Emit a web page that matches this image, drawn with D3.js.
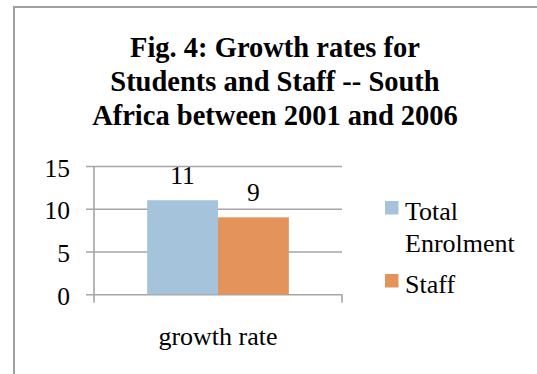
<!DOCTYPE html>
<html>
<head>
<meta charset="utf-8">
<script src="https://cdn.jsdelivr.net/npm/d3@7"></script>
<style>
  html, body { margin: 0; padding: 0; background: #fff; }
  svg { display: block; }
  text { font-family: "Liberation Serif", "Times New Roman", serif; fill: #000; }
</style>
</head>
<body>
<svg id="chart" width="537" height="374"></svg>
<script>
// Chart data
const titleLines = ["Fig. 4: Growth rates for", "Students and Staff -- South", "Africa between 2001 and 2006"];
const categories = ["growth rate"];
const seriesNames = ["Total Enrolment", "Staff"];
const seriesValues = [11, 9];
const seriesColors = ["#a6c3dc", "#e4945b"];
const yTicks = [0, 5, 10, 15];

const svg = d3.select("#chart");
const W = 537, H = 374;

// Outer chart frame (runs off the right and bottom edges)
svg.append("rect")
  .attr("x", 14).attr("y", 7)
  .attr("width", W).attr("height", H)
  .attr("fill", "#fff")
  .attr("stroke", "#a0a0a0")
  .attr("stroke-width", 2);

// Title
svg.append("g").selectAll("text")
  .data(titleLines)
  .join("text")
  .attr("x", 275)
  .attr("y", (d, i) => 57 + i * 34)
  .attr("text-anchor", "middle")
  .attr("font-size", 28.5)
  .attr("font-weight", "bold")
  .text(d => d);

// Plot area
const plot = { left: 94, right: 342, top: 166, bottom: 294.3 };
const gridColor = "#a6a6a6";

const y = d3.scaleLinear().domain([0, 15]).range([plot.bottom, plot.top]);
const x0 = d3.scaleBand().domain(categories).range([plot.left, plot.right]).paddingInner(0).paddingOuter(0);
const groupInner = d3.scaleBand().domain(seriesNames).range([0, x0.bandwidth()]).paddingOuter(0.75).paddingInner(0);

// Horizontal gridlines with left tick marks
const yAxis = d3.axisLeft(y).tickValues(yTicks).tickSize(-(plot.right - plot.left + 8)).tickPadding(0).tickFormat("");
const ga = svg.append("g").attr("transform", `translate(${plot.left - 8},0)`).call(yAxis);
ga.select(".domain").remove();
ga.selectAll(".tick line")
  .attr("x1", 0).attr("x2", plot.right - plot.left + 8)
  .attr("stroke", gridColor).attr("stroke-width", 1.6);

// Vertical axis line, extended below the baseline
svg.append("line")
  .attr("x1", plot.left).attr("x2", plot.left)
  .attr("y1", plot.top).attr("y2", plot.bottom + 8.5)
  .attr("stroke", gridColor).attr("stroke-width", 1.6);
// Category boundary tick at the right end
svg.append("line")
  .attr("x1", plot.right).attr("x2", plot.right)
  .attr("y1", plot.bottom).attr("y2", plot.bottom + 8.5)
  .attr("stroke", gridColor).attr("stroke-width", 1.6);

// Y tick labels
svg.append("g").selectAll("text")
  .data(yTicks)
  .join("text")
  .attr("x", 70)
  .attr("y", d => y(d) + 10.5)
  .attr("text-anchor", "end")
  .attr("font-size", 25.5)
  .text(d => d);

// Bars
const bars = svg.append("g");
categories.forEach((cat, ci) => {
  const gx = x0(cat);
  seriesNames.forEach((s, si) => {
    const v = seriesValues[si];
    const bx = gx + groupInner(s);
    bars.append("rect")
      .attr("x", bx)
      .attr("y", y(v))
      .attr("width", groupInner.bandwidth())
      .attr("height", y(0) - y(v))
      .attr("fill", seriesColors[si]);
    bars.append("text")
      .attr("x", bx + groupInner.bandwidth() / 2)
      .attr("y", y(v) - 16.5)
      .attr("text-anchor", "middle")
      .attr("font-size", 25.5)
      .text(v);
  });
  // Category label
  svg.append("text")
    .attr("x", gx + x0.bandwidth() / 2)
    .attr("y", 345)
    .attr("text-anchor", "middle")
    .attr("font-size", 26)
    .text(cat);
});

// Legend
const legend = svg.append("g");
const legendEntries = [
  { name: seriesNames[0], lines: ["Total", "Enrolment"], color: seriesColors[0], top: 201 },
  { name: seriesNames[1], lines: ["Staff"], color: seriesColors[1], top: 274 }
];
legendEntries.forEach(e => {
  legend.append("rect")
    .attr("x", 385).attr("y", e.top)
    .attr("width", 13.5).attr("height", 13.5)
    .attr("fill", e.color);
  e.lines.forEach((ln, li) => {
    legend.append("text")
      .attr("x", 405)
      .attr("y", e.top + 18.5 + li * 32)
      .attr("font-size", 26)
      .text(ln);
  });
});
</script>
</body>
</html>
